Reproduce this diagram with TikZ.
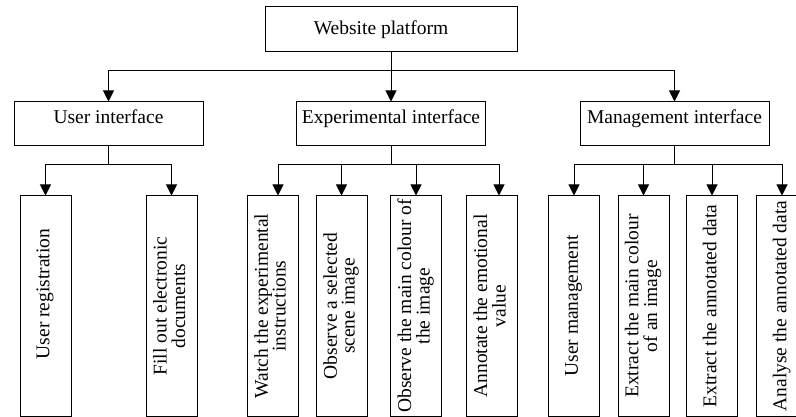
\documentclass[tikz,border=0pt]{standalone}
\usepackage{fontspec}
\setmainfont{Liberation Serif}
\usepackage{graphicx}
\usetikzlibrary{arrows.meta}

\newcommand{\vtext}[1]{\rotatebox{90}{\begin{tabular}{@{}c@{}}#1\end{tabular}}}

\begin{document}
\begin{tikzpicture}[x = 1pt, y = -1pt]
\tikzstyle{rootStyle} = [draw, line width = 1pt, minimum width = 252pt, minimum height = 45pt, inner sep = 0pt, font = \fontsize{19.5}{17}\selectfont]
\tikzstyle{groupStyle} = [draw, line width = 1pt, minimum width = 189pt, minimum height = 44pt, inner sep = 0pt, text height = 12pt, text depth = 12pt, font = \fontsize{19.5}{17}\selectfont]
\tikzstyle{leafStyle} = [draw, line width = 1pt, minimum width = 51pt, minimum height = 220pt, inner sep = 0pt, font = \fontsize{19.5}{16.5}\selectfont]
\tikzstyle{linkStyle} = [line width = 1pt, -{Triangle[length = 11pt, width = 11pt]}]
\useasboundingbox (0, 0) rectangle (796, 417);
\node[rootStyle] (web) at (391, 29.5) {\hspace*{-20pt}Website platform};
\node[groupStyle] (user) at (108.5, 124) {User interface};
\node[groupStyle] (expt) at (391, 124) {Experimental interface};
\node[groupStyle] (mgmt) at (674.5, 124) {Management interface};
\node[leafStyle] (ureg) at (45.5, 306) {\vtext{User registration\hspace*{-24pt}}};
\node[leafStyle] (fill) at (171.5, 306) {\vtext{Fill out electronic\\documents}};
\node[leafStyle] (watch) at (272.5, 306) {\vtext{Watch the experimental\\instructions}};
\node[leafStyle] (scene) at (341.5, 306) {\vtext{Observe a selected\\scene image}};
\node[leafStyle] (colour) at (416, 306) {\vtext{Observe the main colour of\\the image}};
\node[leafStyle] (emot) at (492, 306) {\vtext{Annotate the emotional\\value}};
\node[leafStyle] (umgmt) at (574, 306) {\vtext{User management}};
\node[leafStyle] (xcol) at (643.5, 306) {\vtext{Extract the main colour\\of an image}};
\node[leafStyle] (xdata) at (712, 306) {\vtext{Extract the annotated data}};
\node[leafStyle] (adata) at (782, 306) {\vtext{Analyse the annotated data}};
\draw[linkStyle] (web.south) -- ++(0, 18) -| (user.north);
\draw[linkStyle] (web.south) -- (expt.north);
\draw[linkStyle] (web.south) -- ++(0, 18) -| (mgmt.north);
\draw[linkStyle] (user.south) -- ++(0, 18) -| (ureg.north);
\draw[linkStyle] (user.south) -- ++(0, 18) -| (fill.north);
\draw[linkStyle] (expt.south) -- ++(0, 18) -| ([xshift = 5.5pt]watch.north);
\draw[linkStyle] (expt.south) -- ++(0, 18) -| (scene.north);
\draw[linkStyle] (expt.south) -- ++(0, 18) -| (colour.north);
\draw[linkStyle] (expt.south) -- ++(0, 18) -| ([xshift = 7pt]emot.north);
\draw[linkStyle] (mgmt.south) -- ++(0, 18) -| (umgmt.north);
\draw[linkStyle] (mgmt.south) -- ++(0, 18) -| (xcol.north);
\draw[linkStyle] (mgmt.south) -- ++(0, 18) -| (xdata.north);
\draw[linkStyle] (mgmt.south) -- ++(0, 18) -| (adata.north);
\end{tikzpicture}
\end{document}
